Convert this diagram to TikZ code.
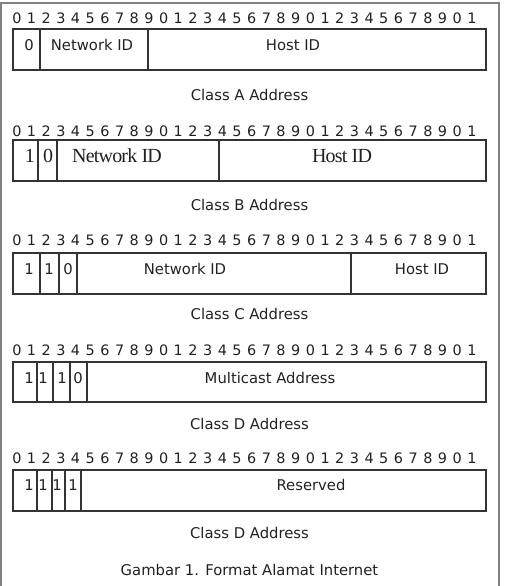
\documentclass[tikz,border=0pt]{standalone}
\usepackage{fontspec}
\setmainfont{DejaVu Sans}
\newfontfamily\timesfont[LetterSpace=-4]{Liberation Serif}
\usepackage{tikz}
\definecolor{framegray}{gray}{0.5}
\definecolor{linegray}{gray}{0.2}
\definecolor{textgray}{gray}{0.13}
\newcommand{\bitrow}{{\spaceskip=4.14pt\relax 0 1 2 3 4 5 6 7 8 9 0 1 2 3 4 5 6 7 8 9 0 1 2 3 4 5 6 7 8 9 0 1}}

\begin{document}
\begin{tikzpicture}[x=0.75pt, y=-0.75pt,
  box/.style={draw=linegray, line width=1pt},
  txt/.style={inner sep=0pt, text=textgray, font=\fontsize{11.1}{13}\selectfont},
  serif/.style={inner sep=0pt, text=textgray, font=\timesfont\fontsize{15}{17}\selectfont},
  bits/.style={txt, anchor=west, font=\fontsize{10.8}{13}\selectfont}]
\useasboundingbox (0,0) rectangle (505,586);
\draw[framegray, line width=1.8pt] (1,586) -- (1,3) -- (499,3) -- (499,586);
\node[bits] (bitsA) at (12,18.5) {\bitrow};
\draw[box] (13,29) rectangle (486,70);
\draw[box] (40,29) -- (40,70);
\draw[box] (148,29) -- (148,70);
\node[txt] (a0) at (29,45) {0};
\node[txt] (anet) at (92,45) {Network ID};
\node[txt] (ahost) at (293,45) {Host ID};
\node[txt] (alabel) at (249.5,95) {Class A Address};
\node[bits] (bitsB) at (12,131.5) {\bitrow};
\draw[box] (13,140) rectangle (486,181);
\draw[box] (38,140) -- (38,181);
\draw[box] (57,140) -- (57,181);
\draw[box] (219,140) -- (219,181);
\node[serif] (b1) at (30,156) {1};
\node[serif] (b0) at (48,156) {0};
\node[serif] (bnet) at (117,156) {Network ID};
\node[serif] (bhost) at (342,156) {Host ID};
\node[txt] (blabel) at (249.5,205) {Class B Address};
\node[bits] (bitsC) at (12,240.5) {\bitrow};
\draw[box] (13,253) rectangle (486,294);
\draw[box] (40,253) -- (40,294);
\draw[box] (59,253) -- (59,294);
\draw[box] (77,253) -- (77,294);
\draw[box] (351,253) -- (351,294);
\node[txt] (c1) at (29,269) {1};
\node[txt] (c2) at (49,269) {1};
\node[txt] (c0) at (68,269) {0};
\node[txt] (cnet) at (185,269) {Network ID};
\node[txt] (chost) at (422,269) {Host ID};
\node[txt] (clabel) at (249.5,314) {Class C Address};
\node[bits] (bitsD) at (12,350.5) {\bitrow};
\draw[box] (13,362) rectangle (486,402);
\draw[box] (37,362) -- (37,402);
\draw[box] (53,362) -- (53,402);
\draw[box] (70,362) -- (70,402);
\draw[box] (87,362) -- (87,402);
\node[txt] (d1) at (29,378) {1};
\node[txt] (d2) at (43,378) {1};
\node[txt] (d3) at (62,378) {1};
\node[txt] (d0) at (78,378) {0};
\node[txt] (dmulti) at (270,378) {Multicast Address};
\node[txt] (dlabel) at (249.5,424) {Class D Address};
\node[bits] (bitsE) at (12,458.5) {\bitrow};
\draw[box] (13,470) rectangle (486,511);
\draw[box] (37,470) -- (37,511);
\draw[box] (52,470) -- (52,511);
\draw[box] (65,470) -- (65,511);
\draw[box] (81,470) -- (81,511);
\node[txt] (e1) at (29,485) {1};
\node[txt] (e2) at (43,485) {1};
\node[txt] (e3) at (57,485) {1};
\node[txt] (e4) at (73,485) {1};
\node[txt] (eres) at (311,485) {Reserved};
\node[txt] (elabel) at (249.5,533) {Class D Address};
\node[txt] (caption) at (249.5,570) {Gambar 1. Format Alamat Internet};
\end{tikzpicture}
\end{document}
